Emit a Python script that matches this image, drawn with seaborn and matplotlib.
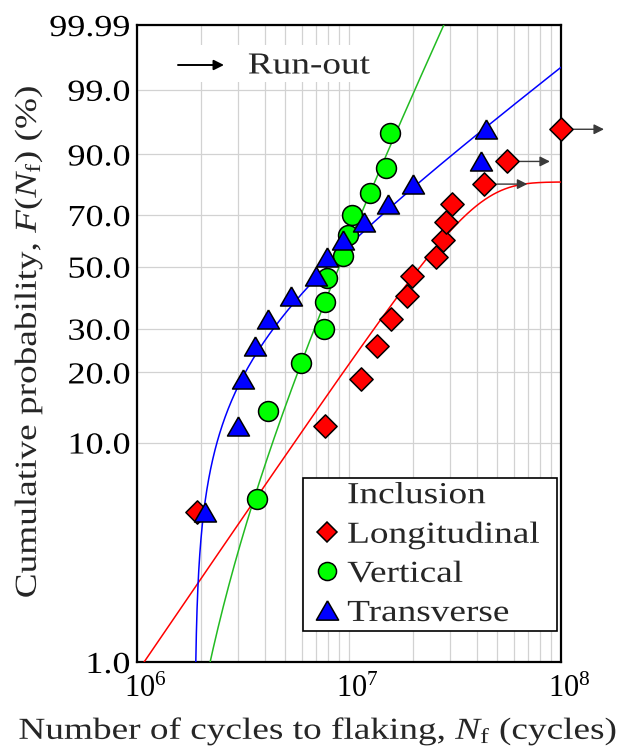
import numpy as np
import pandas as pd
import matplotlib
matplotlib.use("Agg")
import matplotlib.pyplot as plt
import seaborn as sns
from matplotlib.lines import Line2D
from matplotlib.markers import MarkerStyle
from matplotlib.patches import Rectangle
from matplotlib.patheffects import AbstractPathEffect
from matplotlib.transforms import Affine2D, ScaledTranslation

# ---- data: cycles to flaking and cumulative probability (%) ----
long_cycles = [1.92e6, 7.73e6, 1.14e7, 1.35e7, 1.57e7, 1.88e7, 1.99e7,
               2.58e7, 2.79e7, 2.86e7, 3.07e7, 4.35e7, 5.56e7, 1.00e8]
long_prob = [4.9, 11.8, 18.8, 25.7, 32.6, 39.6, 46.5,
             53.5, 60.4, 67.4, 74.3, 81.3, 88.2, 95.1]
long_runout = [False] * 11 + [True] * 3

vert_cycles = [3.67e6, 4.16e6, 5.92e6, 7.65e6, 7.70e6, 7.85e6,
               9.40e6, 9.92e6, 1.03e7, 1.25e7, 1.49e7, 1.56e7]
vert_prob = [5.6, 13.7, 21.8, 29.8, 37.9, 46.0,
             54.0, 62.1, 70.2, 78.2, 86.3, 94.4]

trans_cycles = [2.09e6, 2.99e6, 3.16e6, 3.62e6, 4.13e6, 5.30e6, 6.95e6,
                7.85e6, 9.37e6, 1.18e7, 1.53e7, 2.00e7, 4.18e7, 4.41e7]
trans_prob = [4.9, 11.8, 18.8, 25.7, 32.6, 39.6, 46.5,
              53.5, 60.4, 67.4, 74.3, 81.3, 88.2, 95.1]

# Weibull fit parameters: shape, scale, location (3-parameter fits)
vert_fit = (2.10, 9.32e6, 1.17e6)
trans_fit = (0.765, 9.735e6, 1.87e6)
# defective Weibull fit: shape, scale, failing fraction
long_fit = (1.446, 2.265e7, 0.82)

y_ticks = [1.0, 10.0, 20.0, 30.0, 50.0, 70.0, 90.0, 99.0, 99.99]
y_ticklabels = ["1.0", "10.0", "20.0", "30.0", "50.0", "70.0", "90.0", "99.0", "99.99"]
x_ticks = [1e6, 1e7, 1e8]
x_ticklabels = [r"$10^{6}$", r"$10^{7}$", r"$10^{8}$"]

RED, GREEN, BLUE = "#ff0000", "#00ff00", "#0000ff"
GREEN_LINE = "#22bb22"

sns.set_style("white")
plt.rcParams["font.family"] = ["Liberation Serif", "DejaVu Serif"]
plt.rcParams["mathtext.fontset"] = "custom"
plt.rcParams["mathtext.rm"] = "Liberation Serif"
plt.rcParams["mathtext.it"] = "Liberation Serif:italic"
plt.rcParams["mathtext.bf"] = "Liberation Serif:bold"
FS = 22


class StretchX(AbstractPathEffect):
    """Widen glyph runs along the text direction (loose letter spacing look)."""

    def __init__(self, sx, anchor="center"):
        super().__init__()
        self.sx = sx
        self.anchor = anchor

    def draw_path(self, renderer, gc, tpath, affine, rgbFace=None):
        ext = tpath.get_extents()
        if self.anchor == "left":
            cx = ext.x0
        elif self.anchor == "right":
            cx = ext.x1
        else:
            cx = 0.5 * (ext.x0 + ext.x1)
        t = Affine2D().translate(-cx, 0).scale(self.sx, 1).translate(cx, 0)
        renderer.draw_path(gc, tpath, t + affine, rgbFace)


def weib_fwd(p):
    p = np.clip(np.asarray(p, dtype=float), 1e-12, 100 - 1e-9) / 100.0
    return np.log(-np.log1p(-p))


def weib_inv(w):
    return 100.0 * (1.0 - np.exp(-np.exp(np.asarray(w, dtype=float))))


W, H = 625, 751
fig = plt.figure(figsize=(W / 100, H / 100), dpi=100)
ax = fig.add_axes([137 / W, 1 - 662 / H, 424 / W, 637 / H])
ax.set_xscale("log")
ax.set_yscale("function", functions=(weib_fwd, weib_inv))
ax.set_xlim(1e6, 1e8)
ax.set_ylim(1.0, 99.99)

# ---- fitted curves ----
def three_param(n, shape, scale, loc):
    return 100.0 * (1.0 - np.exp(-(((n - loc) / scale) ** shape)))


n_tr = trans_fit[2] + np.logspace(3, np.log10(1e8 - trans_fit[2]), 600)
n_ve = vert_fit[2] + np.logspace(4, np.log10(1e8 - vert_fit[2]), 600)
n_lo = np.logspace(5.8, 8, 600)
curves = pd.concat([
    pd.DataFrame({"N": n_lo, "F": 100.0 * long_fit[2] * (1 - np.exp(-(n_lo / long_fit[1]) ** long_fit[0])), "g": "L"}),
    pd.DataFrame({"N": n_ve, "F": three_param(n_ve, *vert_fit), "g": "V"}),
    pd.DataFrame({"N": n_tr, "F": three_param(n_tr, *trans_fit), "g": "T"}),
])
for g, col in [("L", RED), ("V", GREEN_LINE), ("T", BLUE)]:
    sub = curves[curves["g"] == g]
    sns.lineplot(data=sub, x="N", y="F", color=col, lw=1.1, ax=ax,
                 estimator=None, errorbar=None, sort=False, legend=False, zorder=3)

# ---- data points ----
tri = MarkerStyle(np.array([[0.0, 0.433], [-0.5, -0.433], [0.5, -0.433], [0.0, 0.433]]))
sns.scatterplot(x=long_cycles, y=long_prob, marker="D", s=140, color=RED,
                edgecolor="black", linewidth=1.1, ax=ax, legend=False, zorder=5, clip_on=False)
sns.scatterplot(x=vert_cycles, y=vert_prob, marker="o", s=205, color=GREEN,
                edgecolor="black", linewidth=1.1, ax=ax, legend=False, zorder=6, clip_on=False)
sns.scatterplot(x=trans_cycles, y=trans_prob, marker=tri, s=250, color=BLUE,
                edgecolor="black", linewidth=1.1, ax=ax, legend=False, zorder=7, clip_on=False)

# run-out arrows on suspended tests
for n, p, ro in zip(long_cycles, long_prob, long_runout):
    if ro:
        ax.annotate("", xy=(n * 1.595, p), xytext=(n, p),
                    arrowprops=dict(arrowstyle="-|>", color="#3a3a3a", lw=1.0,
                                    shrinkA=9, shrinkB=0, mutation_scale=15),
                    annotation_clip=False, zorder=4)

# ---- axes styling ----
ax.set_xticks(x_ticks)
ax.set_xticklabels(x_ticklabels)
ax.set_xticks([k * 10 ** e for e in (6, 7) for k in range(2, 10)], minor=True)
ax.xaxis.set_minor_formatter(matplotlib.ticker.NullFormatter())
ax.set_yticks(y_ticks)
ax.set_yticklabels(y_ticklabels)
ax.yaxis.set_minor_locator(matplotlib.ticker.NullLocator())
ax.tick_params(axis="both", which="both", length=0, labelsize=FS, colors="black")
ax.tick_params(axis="x", pad=9)
ax.tick_params(axis="y", pad=5)
ax.grid(True, which="both", axis="x", color="#d2d2d2", lw=0.9)
ax.grid(True, which="major", axis="y", color="#d2d2d2", lw=0.9)
ax.set_axisbelow(True)
for sp in ax.spines.values():
    sp.set_visible(True)
    sp.set_color("black")
    sp.set_linewidth(1.6)
ax.set_xlabel("")
ax.set_ylabel("")

for lab in ax.get_yticklabels():
    lab.set_path_effects([StretchX(1.18, "right")])
shift = ScaledTranslation(8 / 100, 0, fig.dpi_scale_trans)
for lab in ax.get_xticklabels():
    lab.set_transform(lab.get_transform() + shift)

# axis titles
fig.text(317.5 / W, 1 - 731 / H, r"Number of cycles to flaking, $N_{\rm f}$ (cycles)",
         ha="center", va="center", fontsize=FS,
         path_effects=[StretchX(1.22, "center")])
fig.text(28 / W, 1 - 342 / H, r"Cumulative probability, $F$($N_{\rm f}$) (%)",
         ha="center", va="center", rotation=90, fontsize=FS,
         path_effects=[StretchX(1.22, "center")])

# ---- run-out key ----
def ax_frac(px, py):
    return (px - 137) / 424, (662 - py) / 637


x0, y0 = ax_frac(167, 82)
x1, y1 = ax_frac(363, 45)
ax.add_patch(Rectangle((x0, y0), x1 - x0, y1 - y0, transform=ax.transAxes,
                       facecolor="white", edgecolor="none", zorder=2))
a0 = ax_frac(178, 65)
a1 = ax_frac(224, 65)
ax.annotate("", xy=a1, xytext=a0, xycoords="axes fraction", textcoords="axes fraction",
            arrowprops=dict(arrowstyle="-|>", color="black", lw=1.4,
                            shrinkA=0, shrinkB=0, mutation_scale=15), zorder=3)
tx, ty = ax_frac(248, 66)
ax.text(tx, ty, "Run-out", transform=ax.transAxes, ha="left", va="center",
        fontsize=FS, zorder=3, path_effects=[StretchX(1.22, "left")])

# ---- legend ----
handles = [
    Line2D([], [], ls="none", marker="none"),
    Line2D([], [], ls="none", marker="D", ms=10.5, mfc=RED, mec="black", mew=1.1),
    Line2D([], [], ls="none", marker="o", ms=13, mfc=GREEN, mec="black", mew=1.1),
    Line2D([], [], ls="none", marker=tri, ms=16, mfc=BLUE, mec="black", mew=1.1),
]
labels = ["Inclusion", "Longitudinal", "Vertical", "Transverse"]
lx0, ly0 = ax_frac(303, 631)
lx1, ly1 = ax_frac(557, 474)
leg = ax.legend(handles, labels, loc="lower left", mode="expand",
                bbox_to_anchor=(lx0, ly0, lx1 - lx0, ly1 - ly0),
                fontsize=FS, frameon=True, fancybox=False, framealpha=1,
                edgecolor="black", handlelength=1.35, handletextpad=0.0,
                borderpad=0.1, labelspacing=0.33, borderaxespad=0)
leg.get_frame().set_linewidth(1.2)
leg.set_zorder(8)
for t in leg.get_texts():
    t.set_path_effects([StretchX(1.22, "left")])

fig.savefig("out.png", dpi=100)
